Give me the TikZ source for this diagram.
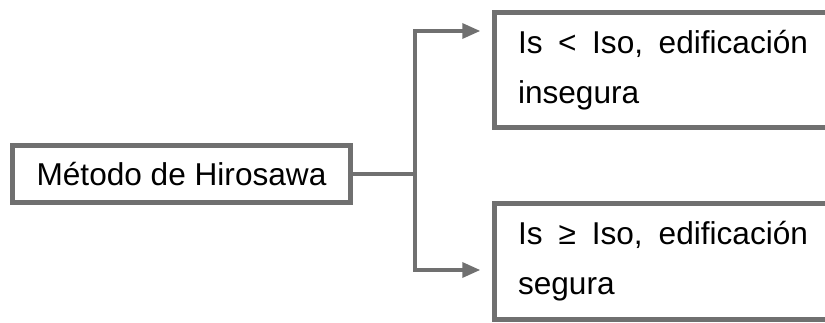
\documentclass[tikz,border=0pt]{standalone}
\usepackage{fontspec}
\setmainfont{Liberation Sans}
\usetikzlibrary{arrows.meta}
\definecolor{boxgray}{RGB}{112,112,112}

\begin{document}
\begin{tikzpicture}[
  x=1pt, y=1pt,
  blk/.style={draw=boxgray, line width=4.5pt, fill=white, inner sep=0pt,
    font=\fontsize{31.6}{50}\selectfont},
  opt/.style={blk, minimum width=400pt, minimum height=115pt,
    text width=353pt, align=left},
  ln/.style={draw=boxgray, line width=3.5pt},
  arr/.style={ln, -{Triangle[length=18pt,width=15pt]}, shorten >=12pt}
]
\useasboundingbox (0,0) rectangle (825,323);
\clip (0,0) rectangle (825,323);

\node[blk, minimum width=338pt, minimum height=57pt] (metodo) at (181.5,149) {M\'etodo de Hirosawa};
\node[opt] (inseg) at (694.5,253) {\hbox to 290pt{Is\hfil<\hfil Iso,\hfil edificaci\'on}\\insegura};
\node[opt, minimum height=116pt] (seg) at (694.5,61.5) {\hbox to 290pt{Is\hfil ≥\hfil Iso,\hfil edificaci\'on}\\segura};

\coordinate (split) at (415,149);
\draw[ln] (metodo.east) -- (split);
\draw[arr] (split) |- ([yshift=39pt]inseg.west);
\draw[arr] (split) |- ([yshift=-8.5pt]seg.west);
\end{tikzpicture}
\end{document}
